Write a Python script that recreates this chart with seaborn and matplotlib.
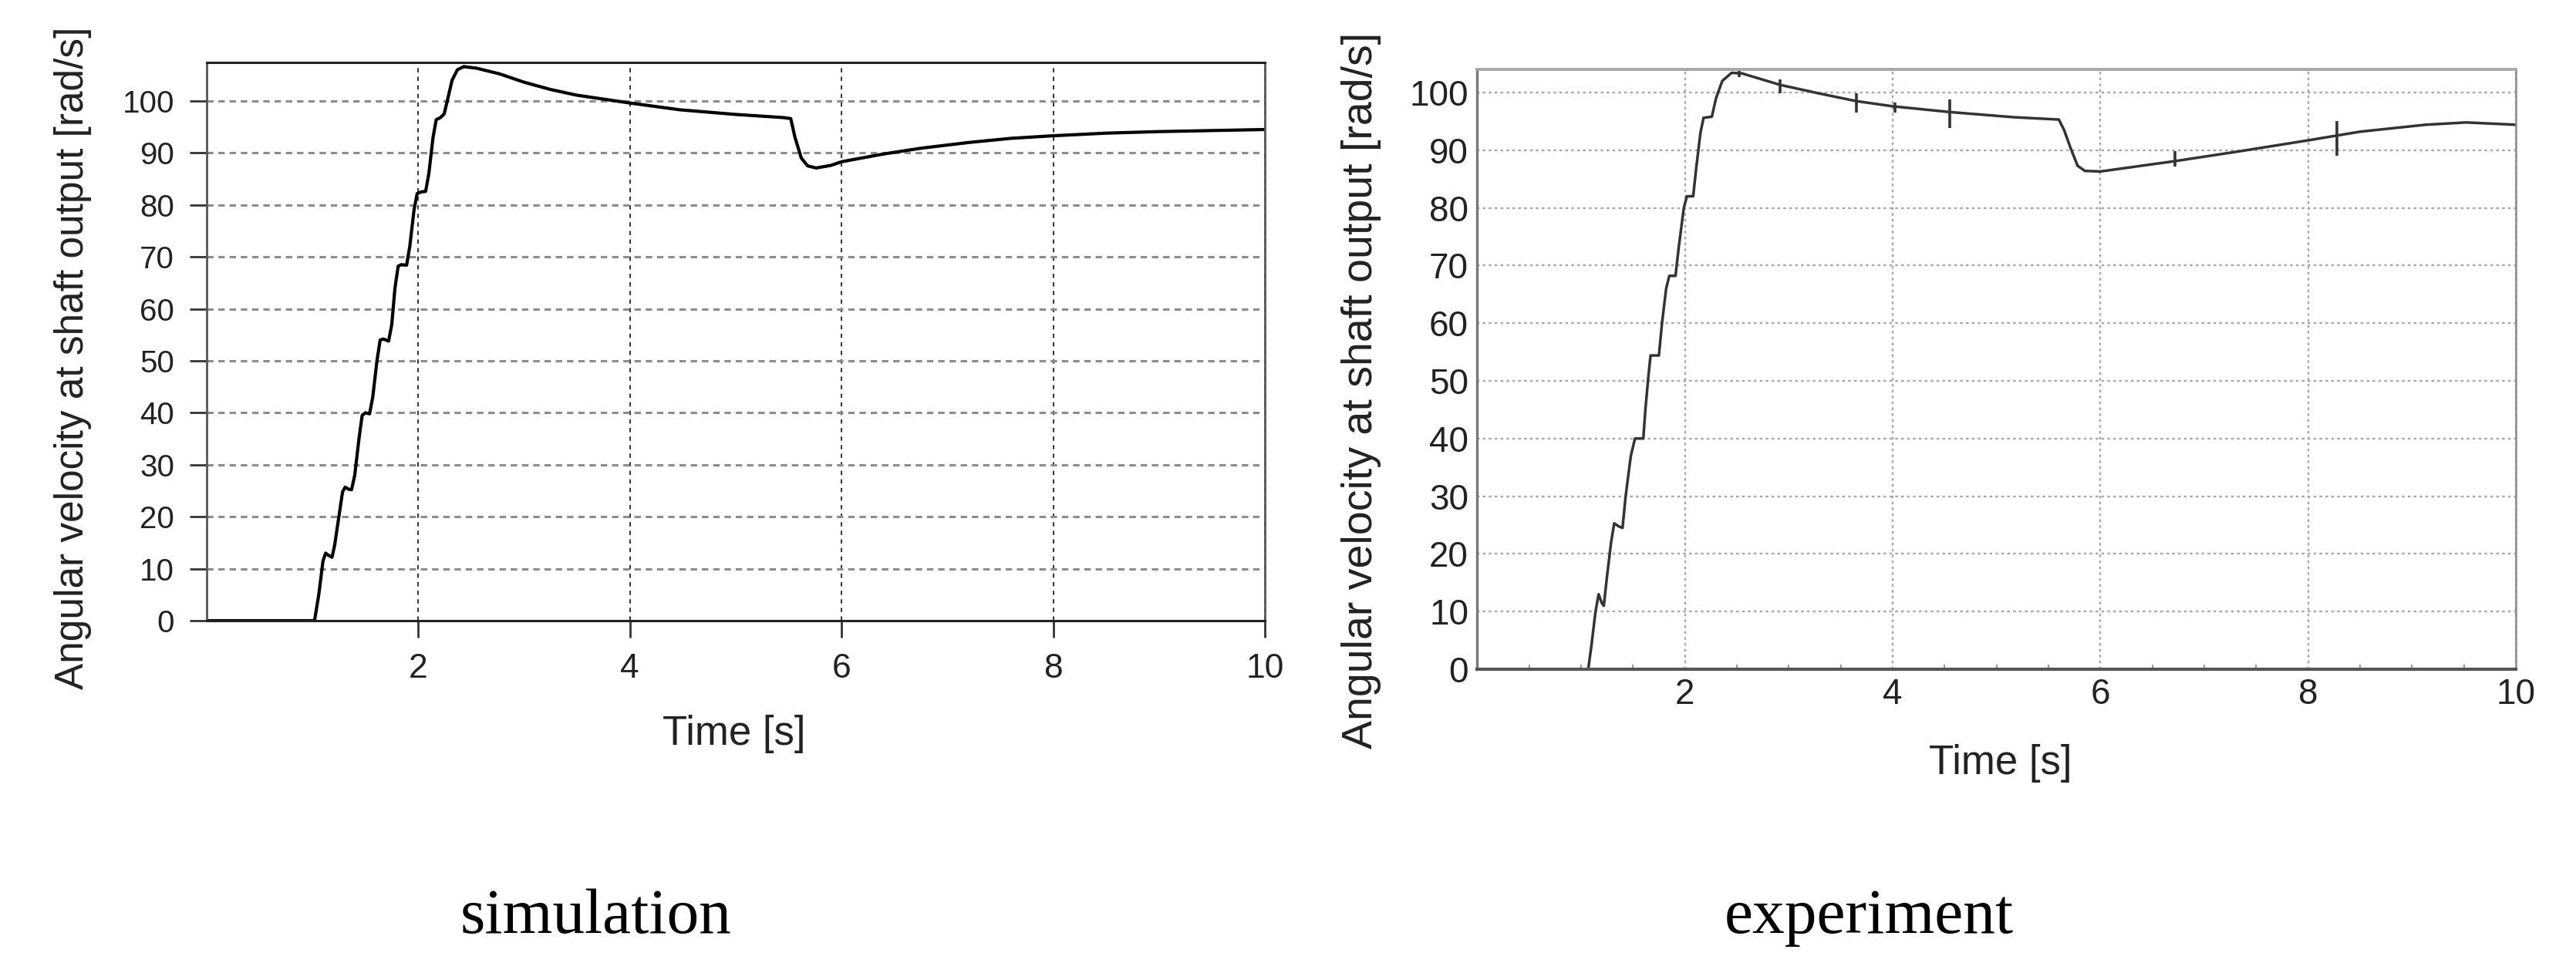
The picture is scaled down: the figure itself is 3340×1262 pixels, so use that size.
import pandas as pd
import matplotlib
matplotlib.use("Agg")
import matplotlib.pyplot as plt
import seaborn as sns
from matplotlib.ticker import MultipleLocator

# simulation curve
sim_t = [0, 1.02, 1.06, 1.10, 1.125, 1.15, 1.185, 1.21, 1.25, 1.285, 1.31, 1.34, 1.37,
         1.40, 1.44, 1.47, 1.50, 1.54, 1.57, 1.61, 1.64, 1.67, 1.72, 1.75, 1.78, 1.81,
         1.84, 1.89, 1.92, 1.96, 1.99, 2.03, 2.07, 2.10, 2.14, 2.17, 2.21, 2.245, 2.28,
         2.32, 2.37, 2.43, 2.55, 2.77, 3.0, 3.25, 3.5, 4.0, 4.47, 5.0, 5.45, 5.52, 5.56,
         5.62, 5.68, 5.76, 5.9, 6.0, 6.4, 6.75, 7.2, 7.6, 8.0, 8.5, 9.0, 9.5, 10.0]
sim_v = [0, 0, 5, 11.5, 13.0, 12.6, 12.2, 14.5, 20, 24.8, 25.7, 25.3, 25.2,
         28, 35, 39.5, 40.0, 39.8, 43, 50, 54.0, 54.2, 53.8, 57, 64, 68.2,
         68.5, 68.4, 72, 79, 82.2, 82.5, 82.6, 86, 93, 96.4, 96.8, 97.5, 100.5,
         104, 106.0, 106.6, 106.3, 105.2, 103.6, 102.2, 101.1, 99.6, 98.3, 97.4, 96.8, 96.6, 93,
         89, 87.5, 87.1, 87.6, 88.3, 89.8, 90.9, 92.0, 92.8, 93.3, 93.8, 94.1, 94.3, 94.5]

# experiment curve
exp_t = [0, 1.07, 1.10, 1.14, 1.17, 1.20, 1.22, 1.25, 1.29, 1.32, 1.36, 1.40, 1.43,
         1.48, 1.52, 1.60, 1.62, 1.65, 1.67, 1.75, 1.78, 1.82, 1.85, 1.91, 1.94, 1.99,
         2.02, 2.08, 2.11, 2.15, 2.18, 2.26, 2.30, 2.36, 2.45, 2.55, 2.92, 3.3, 3.65,
         4.0, 4.55, 5.17, 5.6, 5.65, 5.71, 5.78, 5.85, 6.0, 6.72, 7.34, 8.0, 8.5, 9.13,
         9.52, 10.0]
exp_v = [0, 0, 4, 10, 13.0, 11.5, 11.0, 16, 22, 25.3, 24.8, 24.5, 30,
         37, 40.0, 40.0, 45, 51, 54.4, 54.4, 60, 66, 68.2, 68.2, 73, 80,
         82.0, 82.0, 87, 93, 95.6, 95.8, 99, 102, 103.4, 103.3, 101.3, 99.8, 98.5,
         97.6, 96.6, 95.7, 95.3, 93.5, 90.5, 87.3, 86.4, 86.3, 88.1, 89.8, 91.7, 93.2, 94.4,
         94.8, 94.4]

# measurement spikes in the experiment trace
spike_t = [2.52, 2.92, 3.65, 4.02, 4.55, 6.72, 8.28]
spike_hi = [104.0, 102.2, 99.8, 98.3, 98.8, 89.8, 95.0]
spike_lo = [102.6, 99.8, 96.5, 96.5, 93.9, 87.1, 89.0]

x_ticks = [2, 4, 6, 8, 10]
y_ticks = [0, 10, 20, 30, 40, 50, 60, 70, 80, 90, 100]
panel_labels = ["simulation", "experiment"]
y_label = "Angular velocity at shaft output [rad/s]"
x_label = "Time [s]"

sns.set_theme(style="white")
plt.rcParams["font.family"] = ["Liberation Sans", "DejaVu Sans"]
plt.rcParams["lines.scale_dashes"] = False

fig = plt.figure(figsize=(33.4, 12.62), dpi=100)
ax1 = fig.add_axes([0.0802, 0.3621, 0.4108, 0.5737])
ax2 = fig.add_axes([0.5734, 0.3122, 0.4033, 0.6165])

sim = pd.DataFrame({"t": sim_t, "v": sim_v})
exp = pd.DataFrame({"t": exp_t, "v": exp_v})

# -----------------------------
# left: simulation
# -----------------------------
sns.lineplot(data=sim, x="t", y="v", ax=ax1, color="black", lw=3.0,
             estimator=None, sort=False)
ax1.set_xlim(0, 10)
ax1.set_ylim(0, 107.4)
ax1.set_xticks(x_ticks)
ax1.set_yticks(y_ticks)
ax1.set_axisbelow(True)
ax1.yaxis.grid(True, color="#8c8c8c", lw=2.2, linestyle=(0, (6, 4.5)))
ax1.xaxis.grid(True, color="#333333", lw=1.4, linestyle=(0, (4, 4)))
ax1.tick_params(axis="both", bottom=True, left=True, direction="out", length=16,
                width=2, color="#333333", labelsize=29, labelcolor="#222222", pad=14)
ax1.tick_params(axis="x", labelsize=32)
for side in ["top", "bottom"]:
    ax1.spines[side].set_color("#222222")
    ax1.spines[side].set_linewidth(2.2)
for side in ["left", "right"]:
    ax1.spines[side].set_color("#555555")
    ax1.spines[side].set_linewidth(2)
ax1.set_xlabel(x_label, fontsize=38, color="#222222")
ax1.set_ylabel(y_label, fontsize=37, color="#222222")
ax1.xaxis.set_label_coords(0.4985, -0.1685)
ax1.yaxis.set_label_coords(-0.1086, 0.47)

# -----------------------------
# right: experiment
# -----------------------------
sns.lineplot(data=exp, x="t", y="v", ax=ax2, color="#333333", lw=2.5,
             estimator=None, sort=False)
ax2.vlines(spike_t, spike_lo, spike_hi, color="#333333", lw=2.6)
ax2.set_xlim(0, 10)
ax2.set_ylim(0, 104)
ax2.set_xticks(x_ticks)
ax2.set_yticks(y_ticks)
ax2.xaxis.set_minor_locator(MultipleLocator(0.5))
ax2.set_axisbelow(True)
ax2.grid(True, which="major", color="#a8a8a8", lw=1.7, linestyle=(0, (2.5, 3)))
ax2.tick_params(axis="both", which="major", length=0, labelsize=33,
                labelcolor="#222222", pad=8)
ax2.tick_params(axis="x", which="minor", bottom=True, direction="in", length=4,
                width=1.5, color="#999999")
ax2.spines["top"].set_color("#a8a8a8")
ax2.spines["top"].set_linewidth(2.8)
ax2.spines["right"].set_color("#8a8a8a")
ax2.spines["right"].set_linewidth(1.8)
ax2.spines["left"].set_color("#777777")
ax2.spines["left"].set_linewidth(2.4)
ax2.spines["bottom"].set_color("#555555")
ax2.spines["bottom"].set_linewidth(3)
ax2.set_xlabel(x_label, fontsize=38, color="#222222")
ax2.set_ylabel(y_label, fontsize=40, color="#222222")
ax2.xaxis.set_label_coords(0.504, -0.1247)
ax2.yaxis.set_label_coords(-0.092, 0.465)

# panel captions
serif = ["Liberation Serif", "DejaVu Serif"]
fig.text(773 / 3340, 1 - 1210 / 1262, panel_labels[0], ha="center", va="baseline",
         fontsize=60, family=serif, color="black")
fig.text(2423 / 3340, 1 - 1210 / 1262, panel_labels[1], ha="center", va="baseline",
         fontsize=60, family=serif, color="black")

fig.savefig("out.png", dpi=100, facecolor="white")
